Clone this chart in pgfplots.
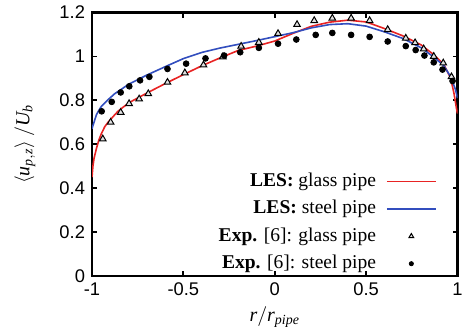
\documentclass[border=0pt]{standalone}
\usepackage{fontspec}
\setmainfont{Liberation Serif}
\newfontfamily\ticksf{Liberation Sans}
\usepackage{pgfplots}
\pgfplotsset{compat=1.18}
\definecolor{lesred}{RGB}{232,35,35}
\definecolor{lesblue}{RGB}{50,78,190}
\pgfplotsset{
  lineleg/.style={legend image code/.code={\draw[#1] (0bp,0bp) -- (24.5bp,0bp);}},
  triLeg/.style={legend image code/.code={\path[draw=none,fill=none] (0bp,-0.1bp) rectangle (24.5bp,0.1bp);
    \path[#1, draw=none, mark size=1.4bp] plot[only marks] coordinates {(12.25bp,0bp)};}},
  dotLeg/.style={legend image code/.code={\path[draw=none,fill=none] (0bp,-0.1bp) rectangle (24.5bp,0.1bp);
    \path[#1, draw=none, mark size=1.05bp] plot[only marks] coordinates {(12.25bp,0bp)};}},
}
\begin{document}
\begin{tikzpicture}
\useasboundingbox (-46bp,-29.5bp) rectangle (185bp,138bp);
\begin{axis}[
  at={(0,0)}, anchor=south west,
  scale only axis, width=182.75bp, height=131.75bp,
  xmin=-1, xmax=1, ymin=0, ymax=1.2,
  xtick={-1,-0.5,0,0.5,1},
  ytick={0,0.2,0.4,0.6,0.8,1,1.2},
  tick align=inside,
  major tick length=2.5bp,
  every tick/.style={black, line width=0.9bp},
  axis line style={line width=1.3bp},
  /pgf/number format/assume math mode=true,
  ticklabel style={font=\ticksf\fontsize{9.2}{10}\selectfont},
  xlabel={$\mathit{r}/\mathit{r}_{\mathit{pipe}}$},
  ylabel={$\left\langle \mathit{u}_{\mathit{p},\mathit{z}}\right\rangle/\mathit{U}_{\mathit{b}}$},
  label style={font=\fontsize{10}{12}\selectfont},
  xlabel style={at={(axis description cs:0.5,0)}, yshift=-20.5bp, anchor=center},
  ylabel style={at={(axis description cs:-0.1833,0.5)}, anchor=center},
  legend plot pos=right,
  legend cell align=right,
  legend style={draw=none, fill=none, inner sep=0pt,
    at={(axis description cs:0.944,0.011)}, anchor=south east,
    row sep=4.7bp, column sep=5bp,
    nodes={inner sep=0pt, text height=7bp, text depth=2bp},
    font=\fontsize{9.8}{11}\selectfont},
]
\addplot[lesred, line width=0.8bp, lineleg] coordinates {
(-1.000,0.45) (-0.995,0.50) (-0.989,0.535) (-0.976,0.58) (-0.962,0.62)
(-0.949,0.648) (-0.930,0.680) (-0.912,0.700) (-0.880,0.730) (-0.858,0.750)
(-0.820,0.775) (-0.785,0.795) (-0.740,0.815) (-0.70,0.833) (-0.60,0.876)
(-0.50,0.917) (-0.40,0.957) (-0.30,0.993) (-0.20,1.027) (-0.10,1.047)
(0.00,1.070) (0.10,1.105) (0.20,1.137) (0.30,1.156) (0.40,1.165)
(0.50,1.157) (0.60,1.127) (0.70,1.094) (0.80,1.053) (0.87,1.008)
(0.925,0.963) (0.962,0.902) (0.980,0.835) (0.995,0.76) (1.000,0.74)
};
\addlegendentry{\textbf{LES:} glass pipe}
\addplot[lesblue, line width=0.8bp, lineleg] coordinates {
(-1.000,0.67) (-0.995,0.685) (-0.989,0.70) (-0.976,0.734) (-0.962,0.755)
(-0.949,0.772) (-0.930,0.788) (-0.912,0.803) (-0.876,0.830) (-0.84,0.85)
(-0.80,0.873) (-0.70,0.915) (-0.60,0.953) (-0.50,0.990) (-0.40,1.018)
(-0.30,1.038) (-0.20,1.055) (-0.10,1.072) (0.00,1.090) (0.10,1.108)
(0.20,1.130) (0.30,1.145) (0.40,1.149) (0.50,1.138) (0.60,1.112)
(0.70,1.082) (0.80,1.040) (0.87,0.997) (0.925,0.958) (0.962,0.908)
(0.989,0.849) (1.000,0.81)
};
\addlegendentry{\textbf{LES:} steel pipe}
\addplot[only marks, mark=triangle*, mark size=1.9bp,
  mark options={fill=black!12, draw=black, line width=0.5bp}, triLeg] coordinates {
(-0.941,0.624) (-0.898,0.700) (-0.843,0.745) (-0.797,0.785) (-0.742,0.806)
(-0.692,0.830) (-0.587,0.882) (-0.492,0.925) (-0.390,0.961) (-0.284,0.998)
(-0.184,1.046) (-0.087,1.064) (0.018,1.104) (0.122,1.145) (0.216,1.163)
(0.315,1.174) (0.418,1.174) (0.519,1.163) (0.618,1.122) (0.717,1.083)
(0.768,1.062) (0.815,1.034) (0.870,1.000) (0.922,0.970) (0.967,0.907)
};
\addlegendentry{\textbf{Exp.} [6]: glass pipe}
\addplot[only marks, mark=*, mark size=1.45bp,
  mark options={fill=black, draw=black}, dotLeg] coordinates {
(-0.947,0.750) (-0.892,0.793) (-0.843,0.836) (-0.796,0.864) (-0.737,0.891)
(-0.686,0.907) (-0.587,0.943) (-0.485,0.967) (-0.379,0.991) (-0.277,1.004)
(-0.189,1.019) (-0.087,1.039) (0.018,1.058) (0.118,1.077) (0.224,1.098)
(0.315,1.107) (0.418,1.098) (0.519,1.089) (0.618,1.068) (0.717,1.047)
(0.771,1.029) (0.819,1.004) (0.870,0.973) (0.918,0.940) (0.973,0.888)
};
\addlegendentry{\textbf{Exp.} [6]: steel pipe}
\end{axis}
\end{tikzpicture}
\end{document}
